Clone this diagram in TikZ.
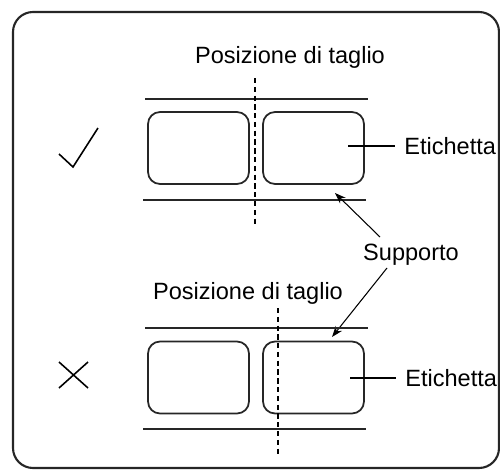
\documentclass[tikz,border=0pt]{standalone}
\usepackage{fontspec}
\setmainfont{Liberation Sans}
\usetikzlibrary{arrows.meta,positioning}

\begin{document}
\begin{tikzpicture}[
  x=0.02cm, y=-0.02cm,
  every node/.style={font=\fontsize{13.4}{16}\selectfont, inner sep=0pt},
  frm/.style ={draw=black!85, line width=1.2pt, rounded corners=0.4cm},
  lbl/.style ={draw=black!85, line width=1pt, rounded corners=0.24cm,
               minimum width=2.02cm, minimum height=1.44cm},
  rail/.style={draw=black!85, line width=1.1pt},
  cut/.style ={draw=black, line width=0.8pt, dash pattern=on 3pt off 2pt},
  ldr/.style ={draw=black, line width=0.6pt},
  sa/.style  ={-{Stealth[length=2.2mm,width=1.6mm]}, line width=0.6pt},
  mk/.style  ={draw=black, line width=0.9pt},
]
\useasboundingbox (0,0) rectangle (500,470);

%% ─── Outer frame ─────────────────────────────────────────────────────────────
\draw[frm] (13,12) rectangle (499,468);

%% ─── Good cut (top) ──────────────────────────────────────────────────────────
\node (cutA) at (290,57) {Posizione di taglio};

\draw[rail] (145,99)  -- (368,99);
\draw[rail] (143,200) -- (366,200);

\node[lbl] (lA1) at (198.5,148) {};
\node[lbl] (lA2) at (313.5,148) {};

\coordinate (cA1) at (255,78);
\coordinate (cA2) at (255,227);
\draw[cut] (cA1) -- (cA2);

\node[right] (etA) at (404,146) {Etichetta};
\coordinate (eA) at (348,146);
\draw[ldr] (eA) -- ([xshift=-5pt]etA.west);

% check mark
\draw[mk] (59,154) -- (73,167) -- (98,128);

%% ─── Backing label and its arrows ────────────────────────────────────────────
\node (sup) at (411,255) {Supporto};
\coordinate (tA) at (380,237);
\coordinate (tB) at (387,268);
\coordinate (sA) at (335,193);
\coordinate (sB) at (332,337);
\draw[sa] (tA) -- (sA);
\draw[sa] (tB) -- (sB);

%% ─── Bad cut (bottom) ────────────────────────────────────────────────────────
\node (cutB) at (248,293) {Posizione di taglio};

\draw[rail] (145,328) -- (368,328);
\draw[rail] (143,429) -- (366,429);

\node[lbl] (lB1) at (198.5,377.5) {};
\node[lbl] (lB2) at (313.5,377.5) {};

\coordinate (cB1) at (278,308);
\coordinate (cB2) at (278,457);
\draw[cut] (cB1) -- (cB2);

\node[right] (etB) at (405,378) {Etichetta};
\coordinate (eB) at (350,378);
\draw[ldr] (eB) -- ([xshift=-5pt]etB.west);

% cross mark
\draw[mk] (59,362) -- (88,388);
\draw[mk] (59,388) -- (88,362);

\end{tikzpicture}
\end{document}
